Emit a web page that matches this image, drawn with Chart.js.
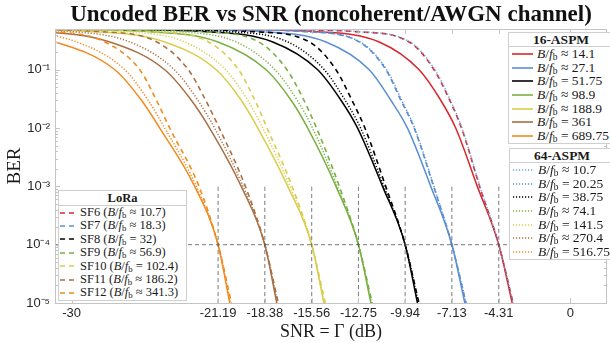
<!DOCTYPE html>
<html lang="en">
<head>
<meta charset="UTF-8" />
<title>Uncoded BER vs SNR</title>
<script src="https://cdn.jsdelivr.net/npm/chart.js@4.4.2/dist/chart.umd.min.js"></script>
<style>
  body { margin: 0; background: #fff; }
  .wrap { position: relative; width: 610px; height: 343px; overflow: hidden; }
  canvas { position: absolute; left: 0; top: 0; }
  .title {
    position: absolute; left: 40px; width: 582px; top: 1px;
    text-align: center; font: bold 23px "Liberation Serif", "DejaVu Serif", serif; color: #111;
  }
  .xtitle {
    position: absolute; left: 55px; width: 552px; top: 321px; line-height: 22px;
    text-align: center; font: 18px "Liberation Serif", "DejaVu Serif", serif; color: #1a1a1a;
  }
  .legend {
    position: absolute; background: #fff; border: 1px solid #cfcfcf;
    font-family: "Liberation Serif", "DejaVu Serif", serif; color: #1a1a1a;
  }
  .legend .head { font-weight: bold; text-align: center; border-bottom: 1px solid #cfcfcf; }
  .legend .row { position: relative; white-space: nowrap; }
  .legend svg { position: absolute; top: 50%; margin-top: -2px; }
  .legend sub { font-size: 70%; vertical-align: -2px; line-height: 0; }
</style>
</head>
<body>
<div class="wrap">
  <canvas id="ber" width="610" height="343"></canvas>
  <div class="title">Uncoded BER vs SNR (noncoherent/AWGN channel)</div>
  <div class="xtitle">SNR = Γ (dB)</div>
  <div class="legend" id="leg16" style="left:508px; top:32px; width:104px;"></div>
  <div class="legend" id="leg64" style="left:509px; top:148px; width:104px;"></div>
  <div class="legend" id="legLoRa" style="left:58px; top:190px; width:127px;"></div>
</div>
<script>
const berLevels = [0.49, 0.45, 0.3, 0.1, 0.03, 0.01, 1e-3, 1e-4, 1e-5];

// SNR (dB) per curve, one row per colour: red, blue, black, green, yellow, brown, orange
const snr16ASPM = [
  [-20.3, -15.3, -11.5, -9.1, -7.8, -6.9, -5.6, -4.31, -3.5],
  [-23.8, -18.6, -14.7, -12.1, -10.8, -9.8, -8.4, -7.13, -6.35],
  [-27.2, -21.9, -17.9, -15.2, -13.8, -12.8, -11.3, -9.94, -9.2],
  [-30.8, -25.3, -21.2, -18.3, -16.8, -15.8, -14.1, -12.75, -12.0],
  [-34.3, -28.6, -24.4, -21.3, -19.8, -18.8, -17.0, -15.56, -14.83],
  [-37.7, -31.9, -27.7, -24.4, -22.8, -21.7, -19.8, -18.38, -17.66],
  [-41.2, -35.2, -31.0, -27.4, -25.8, -24.7, -22.6, -21.19, -20.49]
];
const snr64ASPM = [
  [-17.2, -12.8, -9.65, -8.15, -7.22, -6.52, -5.44, -4.31, -3.44],
  [-20.35, -15.85, -12.65, -11.05, -10.15, -9.37, -8.21, -7.13, -6.27],
  [-25.4, -20.5, -17.0, -14.8, -13.55, -12.62, -11.22, -9.94, -9.14],
  [-28.75, -23.65, -20.1, -17.77, -16.43, -15.51, -14.02, -12.75, -11.96],
  [-32.1, -26.8, -23.2, -20.74, -19.41, -18.5, -16.87, -15.56, -14.79],
  [-35.35, -30.0, -26.5, -23.82, -22.41, -21.4, -19.69, -18.38, -17.61],
  [-38.7, -33.2, -29.7, -26.8, -25.4, -24.4, -22.5, -21.19, -20.44]
];
const snrLoRa = [
  [-17.3, -12.9, -9.7, -8.2, -7.26, -6.55, -5.46, -4.31, -3.45],
  [-20.45, -15.92, -12.7, -11.1, -10.2, -9.4, -8.23, -7.13, -6.28],
  [-23.6, -19.0, -15.7, -14.1, -13.14, -12.36, -11.11, -9.94, -9.11],
  [-26.75, -22.05, -18.75, -17.05, -16.03, -15.27, -13.9, -12.75, -11.92],
  [-29.9, -25.1, -21.76, -19.96, -18.98, -18.24, -16.74, -15.56, -14.74],
  [-33.0, -28.16, -24.88, -22.98, -21.94, -21.12, -19.55, -18.38, -17.57],
  [-36.2, -31.2, -28.0, -25.9, -24.9, -24.1, -22.34, -21.19, -20.39]
];

const colors16 = ["#d7272c", "#5b8fd1", "#000000", "#79b043", "#dacd4e", "#a86f45", "#f28b1e"];
const colors64 = ["#6f9fda", "#5b8fd1", "#000000", "#79b043", "#dacd4e", "#a86f45", "#f28b1e"];
const colorsLoRa = ["#d7272c", "#5b8fd1", "#000000", "#79b043", "#dacd4e", "#a86f45", "#f28b1e"];

const labels16 = ["≈ 14.1", "≈ 27.1", "= 51.75", "≈ 98.9", "≈ 188.9", "= 361", "= 689.75"];
const labels64 = ["≈ 10.7", "= 20.25", "= 38.75", "≈ 74.1", "= 141.5", "≈ 270.4", "= 516.75"];
const sfNames = ["SF6", "SF7", "SF8", "SF9", "SF10", "SF11", "SF12"];
const labelsLoRa = ["≈ 10.7", "≈ 18.3", "= 32", "≈ 56.9", "= 102.4", "≈ 186.2", "≈ 341.3"];

// reference marks: SNR needed for BER = 1e-4, also used as x ticks
const snrAt1e4 = [-21.19, -18.38, -15.56, -12.75, -9.94, -7.13, -4.31];
const xTicks = [-30, -21.19, -18.38, -15.56, -12.75, -9.94, -7.13, -4.31, 0];
const berTicks = [1e-5, 1e-4, 1e-3, 1e-2, 1e-1];
const supers = { "-1": "⁻¹", "-2": "⁻²", "-3": "⁻³", "-4": "⁻⁴", "-5": "⁻⁵" };

const xMin = -31, xMax = 2.2;

const toPoints = (row) => row.map((x, i) => ({ x, y: berLevels[i] }));

const datasets = [];
snrAt1e4.forEach((x) => {
  datasets.push({ data: [{ x, y: 1e-5 }, { x, y: 1e-3 }], borderColor: "#555", borderWidth: 0.8, borderDash: [4, 3] });
});
datasets.push({ data: [{ x: xMin, y: 1e-4 }, { x: xMax, y: 1e-4 }], borderColor: "#555", borderWidth: 0.8, borderDash: [4, 3] });

snr64ASPM.forEach((row, i) => {
  datasets.push({ data: toPoints(row), borderColor: colors64[i], borderWidth: 1.5, borderDash: [1.2, 1.8] });
});
snrLoRa.forEach((row, i) => {
  datasets.push({ data: toPoints(row), borderColor: colorsLoRa[i], borderWidth: 1.6, borderDash: [5, 4] });
});
snr16ASPM.forEach((row, i) => {
  datasets.push({ data: toPoints(row), borderColor: colors16[i], borderWidth: 1.5 });
});

// box round the plot with inward ticks, like the original figure
const frame = {
  id: "frame",
  afterDatasetsDraw(chart) {
    const { ctx, chartArea: a, scales } = chart;
    ctx.save();
    ctx.strokeStyle = "#c4c4c4";
    ctx.lineWidth = 1;
    ctx.strokeRect(a.left + 0.5, a.top + 0.5, a.right - a.left - 1, a.bottom - a.top);
    ctx.beginPath();
    xTicks.forEach((v) => {
      const px = Math.round(scales.x.getPixelForValue(v)) + 0.5;
      ctx.moveTo(px, a.bottom); ctx.lineTo(px, a.bottom - 5);
      ctx.moveTo(px, a.top); ctx.lineTo(px, a.top + 5);
    });
    for (let e = -5; e < 0; e++) {
      for (let k = 1; k < 10; k++) {
        const v = k * Math.pow(10, e);
        if (v > 0.5) break;
        const py = Math.round(scales.y.getPixelForValue(v)) + 0.5;
        const len = k === 1 ? 5 : 3;
        ctx.moveTo(a.left, py); ctx.lineTo(a.left + len, py);
        ctx.moveTo(a.right, py); ctx.lineTo(a.right - len, py);
      }
    }
    ctx.stroke();
    ctx.restore();
  },
};

new Chart(document.getElementById("ber"), {
  type: "line",
  data: { datasets },
  options: {
    responsive: false,
    animation: false,
    events: [],
    layout: { padding: { top: 29, right: 3, left: 0, bottom: 0 } },
    elements: {
      point: { radius: 0 },
      line: { cubicInterpolationMode: "monotone", fill: false },
    },
    plugins: { legend: { display: false }, tooltip: { enabled: false }, title: { display: false } },
    scales: {
      x: {
        type: "linear",
        min: xMin,
        max: xMax,
        afterBuildTicks(scale) { scale.ticks = xTicks.map((v) => ({ value: v })); },
        afterFit(scale) { scale.height = 40; },
        grid: { display: false, drawTicks: false, tickLength: 0 },
        border: { display: false },
        ticks: {
          padding: 3,
          autoSkip: false,
          maxRotation: 0,
          color: "#262626",
          font: { family: "Liberation Sans, Arial, sans-serif", size: 13 },
          callback: (v) => String(v),
        },
      },
      y: {
        type: "logarithmic",
        min: 1e-5,
        max: 0.5,
        afterBuildTicks(scale) { scale.ticks = berTicks.map((v) => ({ value: v })); },
        afterFit(scale) { scale.width = 55; },
        grid: { display: false, drawTicks: false, tickLength: 0 },
        border: { display: false },
        ticks: {
          padding: 5,
          color: "#262626",
          font: { family: "Liberation Sans, Arial, sans-serif", size: 13 },
          callback: (v) => "10" + supers[String(Math.round(Math.log10(v)))],
        },
        title: {
          display: true,
          text: "BER",
          color: "#1a1a1a",
          padding: { top: 4, bottom: 0 },
          font: { family: "Liberation Serif, DejaVu Serif, serif", size: 19 },
        },
      },
    },
  },
  plugins: [frame],
});

// legends, built from the same arrays
function sample(color, dash, width) {
  const d = dash ? ` stroke-dasharray="${dash}"` : "";
  return `<svg width="${width}" height="4"><line x1="0" y1="2" x2="${width}" y2="2" stroke="${color}" stroke-width="1.6"${d}/></svg>`;
}
const math = `<i>B</i>/<i>f</i><sub>b</sub>`;

function fillLegend(id, head, headH, rowH, fontPx, sampleLeft, sampleW, textLeft, colors, dash, texts) {
  const el = document.getElementById(id);
  let html = `<div class="head" style="height:${headH - 1}px; line-height:${headH - 1}px; font-size:${fontPx}px;">${head}</div>`;
  texts.forEach((t, i) => {
    html += `<div class="row" style="height:${rowH}px; line-height:${rowH}px; font-size:${fontPx}px; padding-left:${textLeft}px;">` +
      `<span style="position:absolute; left:${sampleLeft}px; top:0; height:${rowH}px;">${sample(colors[i], dash, sampleW)}</span>${t}</div>`;
  });
  el.innerHTML = html;
}

fillLegend("leg16", "16-ASPM", 14, 13.7, 13.5, 3, 21, 28, colors16, null,
  labels16.map((l) => `${math} ${l}`));
fillLegend("leg64", "64-ASPM", 14, 13.7, 13.5, 3, 21, 28, colors64, "1.2 1.8",
  labels64.map((l) => `${math} ${l}`));
fillLegend("legLoRa", "LoRa", 15, 13.4, 12.5, 1, 16, 21, colorsLoRa, "5 4",
  labelsLoRa.map((l, i) => `${sfNames[i]} (${math} ${l})`));
</script>
</body>
</html>
